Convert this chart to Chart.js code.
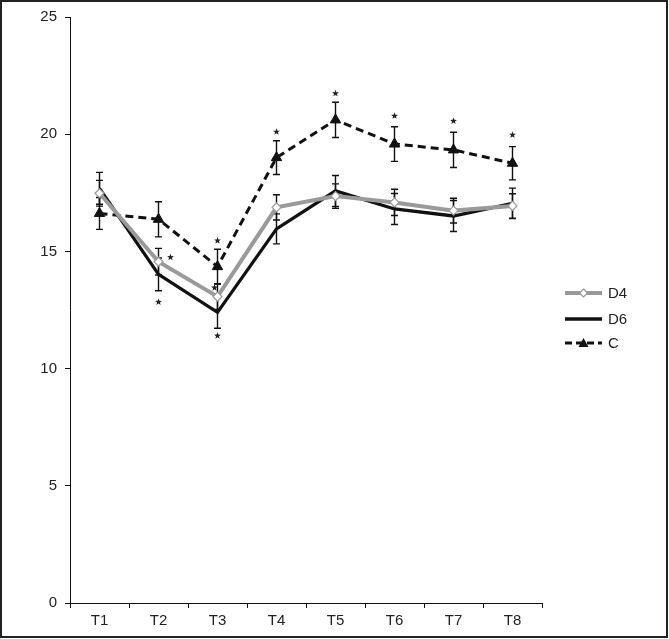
<!DOCTYPE html>
<html>
<head>
<meta charset="utf-8">
<script src="https://cdn.jsdelivr.net/npm/chart.js@4/dist/chart.umd.min.js"></script>
<style>
html,body{margin:0;padding:0;background:#fff;}
#wrap{width:669px;height:639px;position:relative;}
canvas{display:block;}
</style>
</head>
<body>
<div id="wrap"><canvas id="c" width="669" height="639"></canvas></div>
<script>
const labels = ['T1','T2','T3','T4','T5','T6','T7','T8'];
const d4 = [17.48, 14.56, 13.07, 16.88, 17.36, 17.09, 16.74, 16.94];
const d6 = [17.69, 14.02, 12.40, 15.96, 17.58, 16.81, 16.51, 17.05];
const cVals = [16.62, 16.37, 14.35, 19.00, 20.61, 19.58, 19.33, 18.76];
const errD4 = [0.55, 0.57, 0.55, 0.54, 0.52, 0.56, 0.53, 0.52];
const errD6 = [0.68, 0.70, 0.68, 0.64, 0.66, 0.66, 0.66, 0.65];
const errC = [0.68, 0.75, 0.74, 0.72, 0.75, 0.74, 0.75, 0.71];
const starC = [null, null, 15.46, 20.10, 21.74, 20.78, 20.56, 19.97];
const starD4 = [null, 14.75, 13.45, null, null, null, null, null];
const starD6 = [null, 12.84, 11.40, null, null, null, null, null];
const yTicks = [0, 5, 10, 15, 20, 25];

const FONT = '"Liberation Sans", Arial, sans-serif';
const TXT = '#222';

function starPath(ctx, x, y, r) {
  ctx.beginPath();
  for (let i = 0; i < 10; i++) {
    const ang = -Math.PI / 2 + i * Math.PI / 5;
    const rr = i % 2 === 0 ? r : r * 0.42;
    const px = x + rr * Math.cos(ang), py = y + rr * Math.sin(ang);
    if (i === 0) ctx.moveTo(px, py); else ctx.lineTo(px, py);
  }
  ctx.closePath();
  ctx.fill();
}

const errorBars = {
  id: 'errorBars',
  beforeDatasetsDraw(chart) {
    const ctx = chart.ctx, xs = chart.scales.x, ys = chart.scales.y;
    const sets = [[d4, errD4], [d6, errD6], [cVals, errC]];
    ctx.save();
    ctx.strokeStyle = '#111';
    ctx.lineWidth = 1.4;
    sets.forEach(([vals, errs]) => {
      vals.forEach((v, i) => {
        const x = xs.getPixelForValue(i);
        const yt = ys.getPixelForValue(v + errs[i]);
        const yb = ys.getPixelForValue(v - errs[i]);
        ctx.beginPath();
        ctx.moveTo(x, yt); ctx.lineTo(x, yb);
        ctx.moveTo(x - 3.5, yt); ctx.lineTo(x + 3.5, yt);
        ctx.moveTo(x - 3.5, yb); ctx.lineTo(x + 3.5, yb);
        ctx.stroke();
      });
    });
    ctx.restore();
  },
  afterDatasetsDraw(chart) {
    const ctx = chart.ctx, xs = chart.scales.x, ys = chart.scales.y;
    ctx.save();
    ctx.fillStyle = '#222';
    const offD4 = [0, 12, -3, 0, 0, 0, 0, 0];
    [[starC, null], [starD4, offD4], [starD6, null]].forEach(([arr, off]) => {
      arr.forEach((v, i) => {
        if (v == null) return;
        const x = xs.getPixelForValue(i) + (off ? off[i] : 0);
        starPath(ctx, x, ys.getPixelForValue(v), 3.6);
      });
    });
    ctx.restore();
  }
};

const customLegend = {
  id: 'customLegend',
  afterDraw(chart) {
    const ctx = chart.ctx;
    ctx.save();
    const x0 = 565, x1 = 602, tx = 608;
    const items = [
      {label: 'D4', y: 293, color: '#999', width: 4, dash: [], marker: 'diamond'},
      {label: 'D6', y: 319, color: '#111', width: 3.3, dash: [], marker: null},
      {label: 'C', y: 343, color: '#111', width: 3, dash: [7, 4], marker: 'tri'}
    ];
    items.forEach(it => {
      ctx.beginPath();
      ctx.setLineDash(it.dash);
      ctx.strokeStyle = it.color;
      ctx.lineWidth = it.width;
      ctx.moveTo(x0, it.y); ctx.lineTo(x1, it.y);
      ctx.stroke();
      ctx.setLineDash([]);
      const mx = (x0 + x1) / 2;
      if (it.marker === 'diamond') {
        ctx.beginPath();
        ctx.moveTo(mx, it.y - 4); ctx.lineTo(mx + 4, it.y); ctx.lineTo(mx, it.y + 4); ctx.lineTo(mx - 4, it.y); ctx.closePath();
        ctx.fillStyle = '#fff'; ctx.fill();
        ctx.strokeStyle = '#999'; ctx.lineWidth = 1.2; ctx.stroke();
      } else if (it.marker === 'tri') {
        ctx.beginPath();
        ctx.moveTo(mx, it.y - 5); ctx.lineTo(mx + 5, it.y + 4); ctx.lineTo(mx - 5, it.y + 4); ctx.closePath();
        ctx.fillStyle = '#111'; ctx.fill();
      }
      ctx.fillStyle = TXT;
      ctx.font = '15px ' + FONT;
      ctx.textBaseline = 'middle';
      ctx.textAlign = 'left';
      ctx.fillText(it.label, tx, it.y + 1);
    });
    ctx.restore();
  }
};

const frame = {
  id: 'frame',
  afterDraw(chart) {
    const ctx = chart.ctx;
    ctx.save();
    ctx.strokeStyle = '#222';
    ctx.lineWidth = 2;
    ctx.strokeRect(1, 1, 666, 636);
    ctx.restore();
  }
};

new Chart(document.getElementById('c'), {
  type: 'line',
  data: {
    labels: labels,
    datasets: [
      {
        label: 'C', data: cVals, borderColor: '#111', borderWidth: 3, borderDash: [8, 5],
        pointStyle: 'triangle', pointRadius: 6, pointBackgroundColor: '#111', pointBorderColor: '#111',
        pointBorderWidth: 1, tension: 0, fill: false, order: 3
      },
      {
        label: 'D6', data: d6, borderColor: '#111', borderWidth: 3.3,
        pointRadius: 0, tension: 0, fill: false, order: 2
      },
      {
        label: 'D4', data: d4, borderColor: '#9a9a9a', borderWidth: 4,
        pointStyle: 'rectRot', pointRadius: 4.5, pointBackgroundColor: '#fff', pointBorderColor: '#999',
        pointBorderWidth: 1.2, tension: 0, fill: false, order: 1
      }
    ]
  },
  options: {
    responsive: false,
    animation: false,
    events: [],
    layout: {padding: {left: 0, top: 17, right: 127, bottom: 0}},
    plugins: {legend: {display: false}, tooltip: {enabled: false}},
    scales: {
      x: {
        offset: true,
        grid: {display: true, offset: true, drawOnChartArea: false, tickLength: 5, color: '#111', lineWidth: 1},
        border: {display: true, color: '#111', width: 1},
        ticks: {color: TXT, font: {family: FONT, size: 15}, padding: 4, maxRotation: 0},
        afterFit(s) { s.height = 36; }
      },
      y: {
        min: 0, max: 25,
        afterBuildTicks(s) { s.ticks = yTicks.map(v => ({value: v})); },
        grid: {display: true, drawOnChartArea: false, tickLength: 5, color: '#111', lineWidth: 1},
        border: {display: true, color: '#111', width: 1},
        ticks: {color: TXT, font: {family: FONT, size: 15}, padding: 8},
        afterFit(s) { s.width = 70; }
      }
    }
  },
  plugins: [errorBars, customLegend, frame]
});
</script>
</body>
</html>
